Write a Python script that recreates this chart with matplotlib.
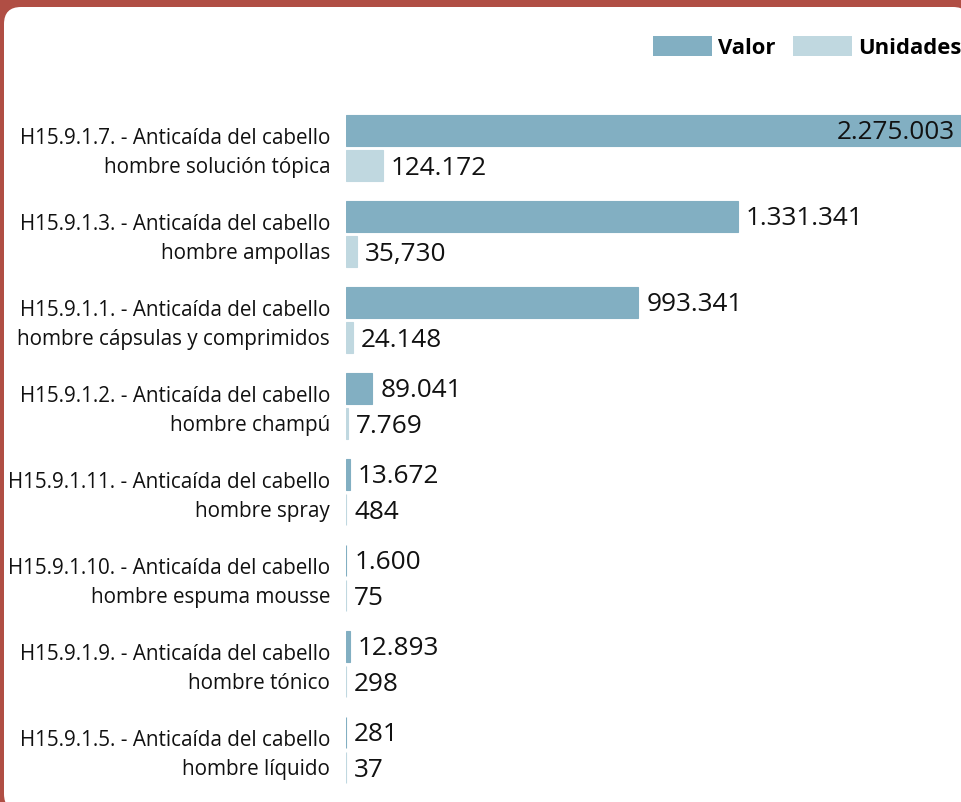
import matplotlib
matplotlib.use("Agg")
import matplotlib.pyplot as plt
from matplotlib.patches import FancyBboxPatch, Rectangle
import matplotlib.transforms as mtransforms

plt.rcParams['font.family'] = ['Open Sans', 'DejaVu Sans']

categories = [
    "H15.9.1.7. - Anticaída del cabello\nhombre solución tópica",
    "H15.9.1.3. - Anticaída del cabello\nhombre ampollas",
    "H15.9.1.1. - Anticaída del cabello\nhombre cápsulas y comprimidos",
    "H15.9.1.2. - Anticaída del cabello\nhombre champú",
    "H15.9.1.11. - Anticaída del cabello\nhombre spray",
    "H15.9.1.10. - Anticaída del cabello\nhombre espuma mousse",
    "H15.9.1.9. - Anticaída del cabello\nhombre tónico",
    "H15.9.1.5. - Anticaída del cabello\nhombre líquido",
]
valor = [2275003, 1331341, 993341, 89041, 13672, 1600, 12893, 281]
unidades = [124172, 35730, 24148, 7769, 484, 75, 298, 37]
valor_labels = ["2.275.003", "1.331.341", "993.341", "89.041", "13.672", "1.600", "12.893", "281"]
unidades_labels = ["124.172", "35,730", "24.148", "7.769", "484", "75", "298", "37"]
series_names = ["Valor", "Unidades"]

C_VALOR = "#82AFC2"
C_UNID = "#C0D8E0"
C_FRAME = "#B04E44"

W, H = 962, 803
fig = plt.figure(figsize=(W / 100, H / 100), dpi=100)
fig.patch.set_facecolor(C_FRAME)

panel = FancyBboxPatch((0.04, -0.09), 9.66, 8.04,
                       boxstyle="round,pad=0,rounding_size=0.17",
                       transform=fig.dpi_scale_trans, facecolor="white",
                       edgecolor="none", zorder=-10)
fig.patches.append(panel)

ax = fig.add_axes([346 / W, (H - 794) / H, 616 / W, 688 / H])
ax.set_facecolor("none")

n = len(categories)
ys = list(range(n))
off = 0.2035
bh = 0.355
yv = [y - off for y in ys]
yu = [y + off for y in ys]
ax.barh(yv, valor, height=bh, color=C_VALOR, edgecolor=C_VALOR, linewidth=0.8)
ax.barh(yu, unidades, height=bh, color=C_UNID, edgecolor=C_UNID, linewidth=0.8)

xmax = 616 / 2.944e-4
ax.set_xlim(0, xmax)
ax.set_ylim(n - 0.5, -0.5)

fs_num = 18.8
px = 0.72  # points per pixel
for y, v, lab in zip(yv, valor, valor_labels):
    if v > xmax:
        tr = mtransforms.blended_transform_factory(ax.transAxes, ax.transData)
        ax.annotate(lab, xy=(1, y), xycoords=tr, xytext=(-7 * px, -1.5 * px),
                    textcoords="offset points", ha="right", va="center",
                    fontsize=fs_num, color="#111111")
    else:
        ax.annotate(lab, xy=(v, y), xytext=(8 * px, -1.5 * px), textcoords="offset points",
                    ha="left", va="center", fontsize=fs_num, color="#111111")
for y, v, lab in zip(yu, unidades, unidades_labels):
    ax.annotate(lab, xy=(v, y), xytext=(8 * px, -1.5 * px), textcoords="offset points",
                ha="left", va="center", fontsize=fs_num, color="#111111")

ax.set_yticks(ys)
ax.set_yticklabels(categories, fontsize=14.9, color="#111111", linespacing=1.5)
ax.tick_params(axis="y", length=0, pad=16 * px)
shift = mtransforms.ScaledTranslation(0, 2 / 100, fig.dpi_scale_trans)
for t in ax.get_yticklabels():
    t.set_transform(t.get_transform() + shift)
ax.set_xticks([])
for s in ax.spines.values():
    s.set_visible(False)

# legend
def px_rect(x0, y0, x1, y1, color):
    fig.patches.append(Rectangle((x0 / 100, (H - y1) / 100), (x1 - x0) / 100, (y1 - y0) / 100,
                                 transform=fig.dpi_scale_trans, facecolor=color,
                                 edgecolor="none", zorder=2))

px_rect(653, 37, 712, 57, C_VALOR)
fig.text(718 / W, (H - 49) / H, series_names[0], fontsize=15.8, fontweight="bold",
         ha="left", va="center", color="black")
px_rect(793, 37, 852, 57, C_UNID)
fig.text(858 / W, (H - 49) / H, series_names[1], fontsize=15.8, fontweight="bold",
         ha="left", va="center", color="black")

fig.savefig("out.png", dpi=100, facecolor=fig.get_facecolor())
